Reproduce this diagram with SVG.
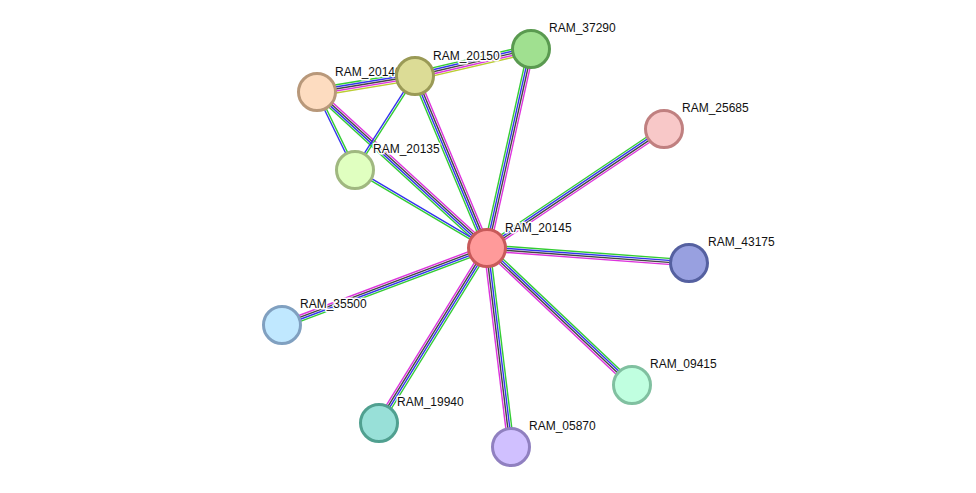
<svg xmlns="http://www.w3.org/2000/svg" width="976" height="493" viewBox="0 0 976 493">
<style>
.g{stroke:#33cc33;stroke-width:1.4}.b{stroke:#3333ee;stroke-width:1.4}.k{stroke:#444;stroke-width:1.4}.m{stroke:#dd33dd;stroke-width:1.4}.y{stroke:#bbcc33;stroke-width:1.4}
text{font-family:"Liberation Sans",Arial,sans-serif;font-size:12px;fill:#111;stroke:#fff;stroke-width:3px;paint-order:stroke;stroke-linejoin:round}
circle{stroke-width:3}
</style>
<rect width="976" height="493" fill="#fff"/>
<g id="edges">
<g transform="translate(487,248) rotate(-137.5)"><line class="g" x2="230.7" y1="-3" y2="-3"/><line class="b" x2="230.7" y1="-1" y2="-1"/><line class="k" x2="230.7" y1="1" y2="1"/><line class="m" x2="230.7" y1="3" y2="3"/></g>
<g transform="translate(487,248) rotate(-112.7)"><line class="g" x2="186.5" y1="-3" y2="-3"/><line class="b" x2="186.5" y1="-1" y2="-1"/><line class="k" x2="186.5" y1="1" y2="1"/><line class="m" x2="186.5" y1="3" y2="3"/></g>
<g transform="translate(487,248) rotate(-77.5)"><line class="g" x2="203.8" y1="-3" y2="-3"/><line class="b" x2="203.8" y1="-1" y2="-1"/><line class="k" x2="203.8" y1="1" y2="1"/><line class="m" x2="203.8" y1="3" y2="3"/></g>
<g transform="translate(487,248) rotate(-33.9)"><line class="g" x2="213.3" y1="-3" y2="-3"/><line class="b" x2="213.3" y1="-1" y2="-1"/><line class="k" x2="213.3" y1="1" y2="1"/><line class="m" x2="213.3" y1="3" y2="3"/></g>
<g transform="translate(487,248) rotate(210.6)"><line class="g" x2="153.3" y1="-1" y2="-1"/><line class="b" x2="153.3" y1="1" y2="1"/></g>
<g transform="translate(487,248) rotate(4.2)"><line class="g" x2="202.6" y1="-3" y2="-3"/><line class="b" x2="202.6" y1="-1" y2="-1"/><line class="k" x2="202.6" y1="1" y2="1"/><line class="m" x2="202.6" y1="3" y2="3"/></g>
<g transform="translate(487,248) rotate(159.4)"><line class="g" x2="219" y1="-3" y2="-3"/><line class="b" x2="219" y1="-1" y2="-1"/><line class="k" x2="219" y1="1" y2="1"/><line class="m" x2="219" y1="3" y2="3"/></g>
<g transform="translate(487,248) rotate(121.7)"><line class="g" x2="205.6" y1="-3" y2="-3"/><line class="b" x2="205.6" y1="-1" y2="-1"/><line class="k" x2="205.6" y1="1" y2="1"/><line class="m" x2="205.6" y1="3" y2="3"/></g>
<g transform="translate(487,248) rotate(83.1)"><line class="g" x2="200.4" y1="-3" y2="-3"/><line class="b" x2="200.4" y1="-1" y2="-1"/><line class="k" x2="200.4" y1="1" y2="1"/><line class="m" x2="200.4" y1="3" y2="3"/></g>
<g transform="translate(487,248) rotate(43.4)"><line class="g" x2="199.5" y1="-3" y2="-3"/><line class="b" x2="199.5" y1="-1" y2="-1"/><line class="k" x2="199.5" y1="1" y2="1"/><line class="m" x2="199.5" y1="3" y2="3"/></g>
<g transform="translate(317,92) rotate(-9.3)"><line class="g" x2="99.3" y1="-4" y2="-4"/><line class="b" x2="99.3" y1="-2" y2="-2"/><line class="k" x2="99.3" y1="0" y2="0"/><line class="m" x2="99.3" y1="2" y2="2"/><line class="y" x2="99.3" y1="4" y2="4"/></g>
<g transform="translate(415,76) rotate(-13.1)"><line class="g" x2="119.1" y1="-4" y2="-4"/><line class="b" x2="119.1" y1="-2" y2="-2"/><line class="k" x2="119.1" y1="0" y2="0"/><line class="m" x2="119.1" y1="2" y2="2"/><line class="y" x2="119.1" y1="4" y2="4"/></g>
<g transform="translate(317,92) rotate(64)"><line class="g" x2="86.8" y1="-1" y2="-1"/><line class="b" x2="86.8" y1="1" y2="1"/></g>
<g transform="translate(415,76) rotate(122.6)"><line class="g" x2="111.5" y1="-1" y2="-1"/><line class="b" x2="111.5" y1="1" y2="1"/></g>
</g>
<g id="labels">
<text x="505" y="232">RAM_20145</text>
<text x="335" y="76">RAM_20140</text>
<text x="433" y="60">RAM_20150</text>
<text x="549" y="32">RAM_37290</text>
<text x="682" y="112">RAM_25685</text>
<text x="373" y="153">RAM_20135</text>
<text x="708" y="246">RAM_43175</text>
<text x="300" y="308">RAM_35500</text>
<text x="397" y="406">RAM_19940</text>
<text x="529" y="430">RAM_05870</text>
<text x="650" y="368">RAM_09415</text>
</g>
<g id="n20145"><circle cx="487" cy="248" r="18.5" fill="#ff9a9a" stroke="#c85a5a"/></g>
<g id="n20140"><circle cx="317" cy="92" r="18.5" fill="#fddcc0" stroke="#b8987a"/></g>
<g id="n20150"><circle cx="415" cy="76" r="18.5" fill="#dcdc96" stroke="#9a9a56"/></g>
<g id="n37290"><circle cx="531" cy="49" r="18.5" fill="#a0e090" stroke="#5a9a50"/></g>
<g id="n25685"><circle cx="664" cy="129" r="18.5" fill="#f8c8c8" stroke="#c08080"/></g>
<g id="n20135"><circle cx="355" cy="170" r="18.5" fill="#e0ffc0" stroke="#a0b880"/></g>
<g id="n43175"><circle cx="689" cy="263" r="18.5" fill="#98a0e0" stroke="#5560a0"/></g>
<g id="n35500"><circle cx="282" cy="325" r="18.5" fill="#c0e8ff" stroke="#80a0c0"/></g>
<g id="n19940"><circle cx="379" cy="423" r="18.5" fill="#98e0d8" stroke="#50a090"/></g>
<g id="n05870"><circle cx="511" cy="447" r="18.5" fill="#d0c0ff" stroke="#9080c0"/></g>
<g id="n09415"><circle cx="632" cy="385" r="18.5" fill="#c0ffe0" stroke="#80c0a0"/></g>
</svg>
